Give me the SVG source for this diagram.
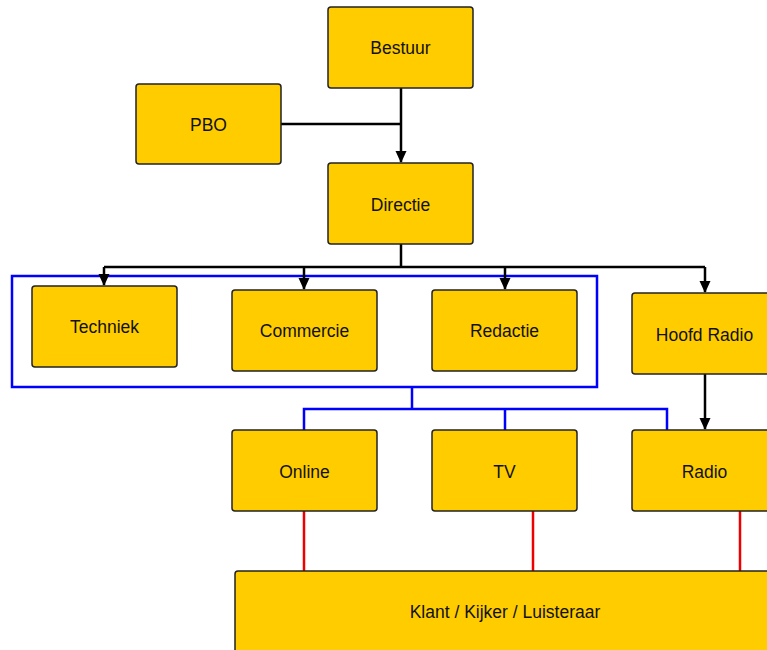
<svg xmlns="http://www.w3.org/2000/svg" width="767" height="650" viewBox="0 0 767 650">
<style>
.box{fill:#FFCC00;stroke:#222;stroke-width:1.5}
.t{font-family:"Liberation Sans",Arial,sans-serif;font-size:17.5px;fill:#111;text-anchor:middle;dominant-baseline:central}
.k{fill:none;stroke:#000;stroke-width:2.5}
.b{fill:none;stroke:#0000FF;stroke-width:2.5}
.r{fill:none;stroke:#EE0000;stroke-width:2.5}
</style>
<defs>
<marker id="ah" markerWidth="12" markerHeight="12" refX="11" refY="6" orient="auto" markerUnits="userSpaceOnUse">
<path d="M0,0.5 L12,6 L0,11.5 Z" fill="#000"/>
</marker>
</defs>
<rect x="12" y="276" width="585" height="111" class="b"/>
<g id="connectors">
<path class="k" d="M401,88 V162" marker-end="url(#ah)"/>
<path class="k" d="M281,124 H401"/>
<path class="k" d="M401,244 V267"/>
<path class="k" d="M104,267 H705"/>
<path class="k" d="M104,267 V285" marker-end="url(#ah)"/>
<path class="k" d="M304,267 V289" marker-end="url(#ah)"/>
<path class="k" d="M505,267 V289" marker-end="url(#ah)"/>
<path class="k" d="M705,267 V292" marker-end="url(#ah)"/>
<path class="k" d="M705,374 V429" marker-end="url(#ah)"/>
<path class="b" d="M412,387 V409"/>
<path class="b" d="M304,430 V409 H667 V430"/>
<path class="b" d="M505,409 V430"/>
<path class="r" d="M304,511 V571"/>
<path class="r" d="M533,511 V571"/>
<path class="r" d="M740,511 V571"/>
</g>
<g id="bestuur"><rect x="328" y="7" width="145" height="81" rx="3" class="box"/><text x="400.5" y="48" class="t">Bestuur</text></g>
<g id="pbo"><rect x="136" y="84" width="145" height="80" rx="3" class="box"/><text x="208.5" y="125" class="t">PBO</text></g>
<g id="directie"><rect x="328" y="163" width="145" height="81" rx="3" class="box"/><text x="400.5" y="205" class="t">Directie</text></g>
<g id="techniek"><rect x="32" y="286" width="145" height="81" rx="3" class="box"/><text x="104.5" y="327" class="t">Techniek</text></g>
<g id="commercie"><rect x="232" y="290" width="145" height="81" rx="3" class="box"/><text x="304.5" y="331" class="t">Commercie</text></g>
<g id="redactie"><rect x="432" y="290" width="145" height="81" rx="3" class="box"/><text x="504.5" y="331" class="t">Redactie</text></g>
<g id="hoofdradio"><rect x="632" y="293" width="145" height="81" rx="3" class="box"/><text x="704.5" y="335" class="t">Hoofd Radio</text></g>
<g id="online"><rect x="232" y="430" width="145" height="81" rx="3" class="box"/><text x="304.5" y="472" class="t">Online</text></g>
<g id="tv"><rect x="432" y="430" width="145" height="81" rx="3" class="box"/><text x="504.5" y="472" class="t">TV</text></g>
<g id="radio"><rect x="632" y="430" width="145" height="81" rx="3" class="box"/><text x="704.5" y="472" class="t">Radio</text></g>
<g id="klant"><rect x="235" y="571" width="545" height="90" rx="3" class="box"/><text x="505" y="612" class="t">Klant / Kijker / Luisteraar</text></g>
</svg>
